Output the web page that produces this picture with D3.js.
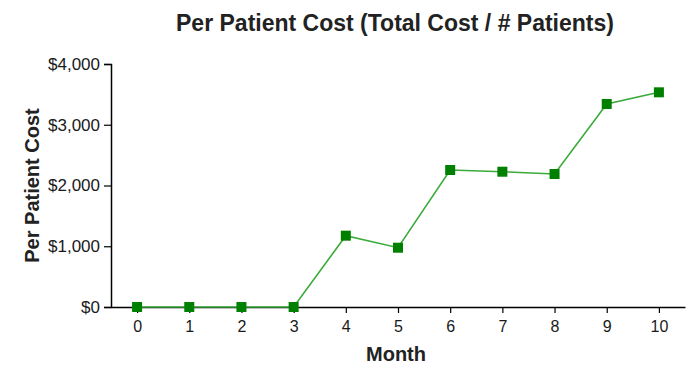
<!DOCTYPE html>
<html>
<head>
<meta charset="utf-8">
<script src="https://cdn.jsdelivr.net/npm/d3@7"></script>
<style>
  html, body { margin: 0; padding: 0; background: #fff; }
  svg { display: block; }
  text { font-family: "Liberation Sans", Arial, sans-serif; }
</style>
</head>
<body>
<svg id="chart" width="692" height="368"></svg>
<script>
// Per patient cost by month
const months = [0, 1, 2, 3, 4, 5, 6, 7, 8, 9, 10];
const perPatientCost = [0, 0, 0, 0, 1174, 976, 2255, 2227, 2189, 3342, 3534];
const yTickValues = [0, 1000, 2000, 3000, 4000];

const svg = d3.select("#chart");
const margin = { left: 111, right: 7, top: 64, bottom: 61 };
const width = 692, height = 368;

const x = d3.scaleLinear().domain([-0.5, 10.5]).range([margin.left, width - margin.right]);
const y = d3.scaleLinear().domain([0, 4000]).range([height - margin.bottom, margin.top]);

const fmt = v => "$" + d3.format(",")(v);

// Y axis
const yAxis = svg.append("g")
  .attr("transform", `translate(${margin.left},0)`)
  .call(d3.axisLeft(y).tickValues(yTickValues).tickFormat(fmt).tickSize(7).tickPadding(4));
yAxis.select(".domain").attr("stroke", "#000").attr("stroke-width", 1.5);
yAxis.selectAll(".tick line").attr("stroke", "#000").attr("stroke-width", 1.2);
yAxis.selectAll(".tick text").attr("font-size", 17).attr("fill", "#1a1a1a");

// X axis
const xAxis = svg.append("g")
  .attr("transform", `translate(0,${height - margin.bottom})`)
  .call(d3.axisBottom(x).tickValues(months).tickFormat(d3.format("d")).tickSize(6).tickSizeOuter(0).tickPadding(8));
xAxis.select(".domain").attr("stroke", "#000").attr("stroke-width", 1.5);
xAxis.selectAll(".tick line").attr("stroke", "#000").attr("stroke-width", 1.2);
xAxis.selectAll(".tick text").attr("font-size", 16).attr("fill", "#1a1a1a");

// Series line
const line = d3.line()
  .x((d, i) => x(months[i]))
  .y(d => y(d));
svg.append("path")
  .datum(perPatientCost)
  .attr("fill", "none")
  .attr("stroke", "#3aaa3a")
  .attr("stroke-width", 1.6)
  .attr("d", line);

// Square markers
const s = 10;
svg.append("g").selectAll("rect")
  .data(perPatientCost)
  .join("rect")
  .attr("x", (d, i) => x(months[i]) - s / 2)
  .attr("y", d => y(d) - s / 2)
  .attr("width", s)
  .attr("height", s)
  .attr("fill", "#008000");

// Titles
svg.append("text")
  .attr("x", 395).attr("y", 31)
  .attr("text-anchor", "middle")
  .attr("font-size", 23).attr("font-weight", "bold").attr("fill", "#222")
  .text("Per Patient Cost (Total Cost / # Patients)");

svg.append("text")
  .attr("x", 396).attr("y", 361)
  .attr("text-anchor", "middle")
  .attr("font-size", 20).attr("font-weight", "bold").attr("fill", "#222")
  .text("Month");

svg.append("text")
  .attr("transform", `translate(39,${(margin.top + height - margin.bottom) / 2}) rotate(-90)`)
  .attr("text-anchor", "middle")
  .attr("font-size", 20).attr("font-weight", "bold").attr("fill", "#222")
  .text("Per Patient Cost");
</script>
</body>
</html>
